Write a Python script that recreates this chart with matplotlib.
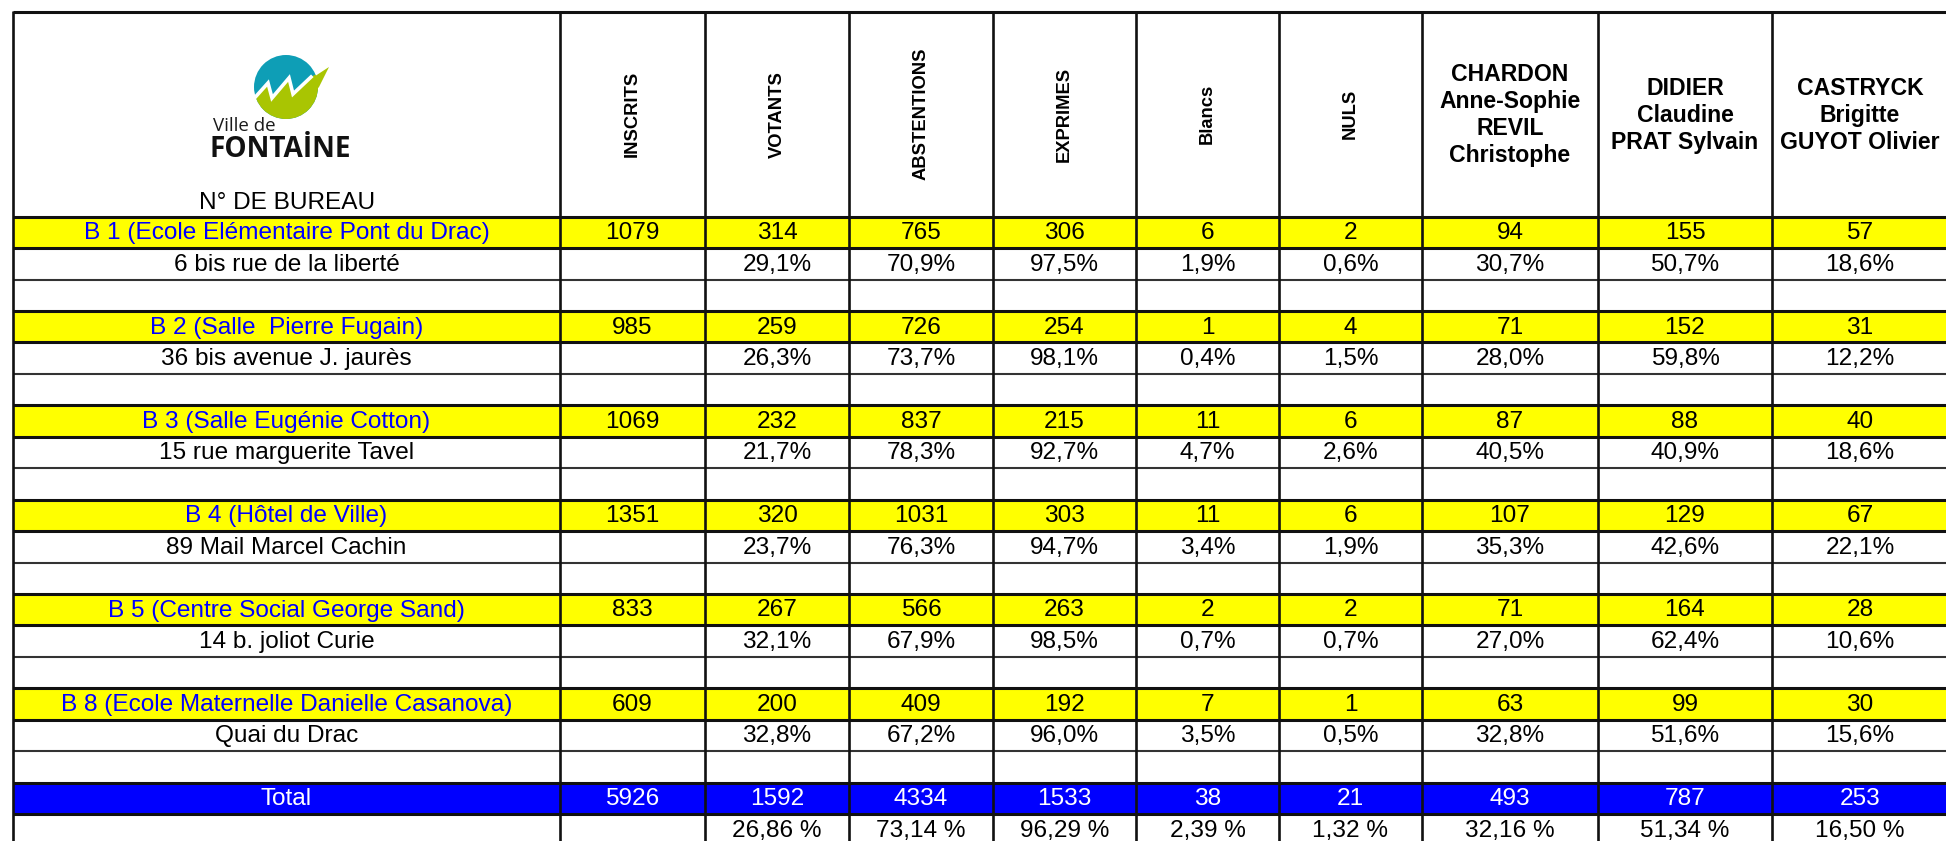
import matplotlib
matplotlib.use("Agg")
import matplotlib.pyplot as plt
from matplotlib.patches import Rectangle, Circle, Polygon

# ---------------- data ----------------
bureaux = ["B 1 (Ecole Elémentaire Pont du Drac)", "B 2 (Salle  Pierre Fugain)",
           "B 3 (Salle Eugénie Cotton)", "B 4 (Hôtel de Ville)",
           "B 5 (Centre Social George Sand)", "B 8 (Ecole Maternelle Danielle Casanova)"]
adresses = ["6 bis rue de la liberté", "36 bis avenue J. jaurès", "15 rue marguerite Tavel",
            "89 Mail Marcel Cachin", "14 b. joliot Curie", "Quai du Drac"]
colonnes = ["INSCRITS", "VOTANTS", "ABSTENTIONS", "EXPRIMES", "Blancs", "NULS"]
candidats = ["CHARDON\nAnne-Sophie\nREVIL\nChristophe", "DIDIER\nClaudine\nPRAT Sylvain",
             "CASTRYCK\nBrigitte\nGUYOT Olivier"]
entete_bureau = "N° DE BUREAU"

inscrits = [1079, 985, 1069, 1351, 833, 609]
votants = [314, 259, 232, 320, 267, 200]
abstentions = [765, 726, 837, 1031, 566, 409]
exprimes = [306, 254, 215, 303, 263, 192]
blancs = [6, 1, 11, 11, 2, 7]
nuls = [2, 4, 6, 6, 2, 1]
chardon = [94, 71, 87, 107, 71, 63]
didier = [155, 152, 88, 129, 164, 99]
castryck = [57, 31, 40, 67, 28, 30]

pct_votants = [29.1, 26.3, 21.7, 23.7, 32.1, 32.8]
pct_abstentions = [70.9, 73.7, 78.3, 76.3, 67.9, 67.2]
pct_exprimes = [97.5, 98.1, 92.7, 94.7, 98.5, 96.0]
pct_blancs = [1.9, 0.4, 4.7, 3.4, 0.7, 3.5]
pct_nuls = [0.6, 1.5, 2.6, 1.9, 0.7, 0.5]
pct_chardon = [30.7, 28.0, 40.5, 35.3, 27.0, 32.8]
pct_didier = [50.7, 59.8, 40.9, 42.6, 62.4, 51.6]
pct_castryck = [18.6, 12.2, 18.6, 22.1, 10.6, 15.6]

total_label = "Total"
totaux = [5926, 1592, 4334, 1533, 38, 21, 493, 787, 253]
pct_totaux = [26.86, 73.14, 96.29, 2.39, 1.32, 32.16, 51.34, 16.50]

# ---------------- layout / style ----------------
W, H = 1946, 841
YELLOW = "#FFFF00"
BLUE = "#0000FF"
FONT = ["Liberation Sans", "DejaVu Sans"]
FS = 17.6
col_edges = [13, 560, 705, 849, 993, 1136, 1279, 1422, 1598, 1772, 1948]
top = 11.5
head_bot = 216.7
row_h = 31.44
n_rows = 20
row_edges = [head_bot + i * row_h for i in range(n_rows + 1)]

fig = plt.figure(figsize=(W / 100, H / 100), dpi=100)
ax = fig.add_axes([0, 0, 1, 1])
ax.set_xlim(0, W)
ax.set_ylim(H, 0)
ax.axis("off")


def fmt1(v):
    return f"{v:.1f}".replace(".", ",") + "%"


def fmt2(v):
    return f"{v:.2f}".replace(".", ",") + " %"


def ccenter(i):
    return (col_edges[i] + col_edges[i + 1]) / 2


def rcenter(r):
    return (row_edges[r] + row_edges[r + 1]) / 2


def put(i, r, s, color="black", **kw):
    ax.text(ccenter(i), rcenter(r) + 0.8, s, ha="center", va="center",
            fontsize=FS, color=color, family=FONT, **kw)


# fills
yellow_rows = [3 * k for k in range(len(bureaux))]
total_row = 3 * len(bureaux)
for r in yellow_rows:
    ax.add_patch(Rectangle((col_edges[0], row_edges[r]), W + 10 - col_edges[0], row_h,
                           facecolor=YELLOW, edgecolor="none", zorder=0))
ax.add_patch(Rectangle((col_edges[0], row_edges[total_row]), W + 10 - col_edges[0], row_h,
                       facecolor=BLUE, edgecolor="none", zorder=0))

# grid lines
lw_thin = 1.5
lw_thick = 2.2
ax.plot([col_edges[0], W + 5], [top, top], color="#111111", lw=lw_thick,
        solid_capstyle="butt", zorder=3)
for k, y in enumerate(row_edges):
    thick = (k % 3 == 0) or (k % 3 == 1)
    ax.plot([col_edges[0], W + 5], [y, y], color="#111111" if thick else "#333333",
            lw=lw_thick if thick else lw_thin, solid_capstyle="butt", zorder=3)
for x in col_edges[:-1]:
    ax.plot([x, x], [top - 1, H + 5], color="#111111", lw=lw_thin + 0.4,
            solid_capstyle="butt", zorder=3)

# header
for i, name in enumerate(colonnes):
    ax.text(ccenter(i + 1), (top + head_bot) / 2, name, rotation=90, ha="center",
            va="center", fontsize=13.2, fontweight="bold", family=FONT)
for j, name in enumerate(candidats):
    ax.text(ccenter(len(colonnes) + 1 + j), (top + head_bot) / 2 + 1, name, ha="center",
            va="center", fontsize=16.6, fontweight="bold", family=FONT,
            linespacing=1.22, multialignment="center")
ax.text(ccenter(0) + 1, 203, entete_bureau, ha="center", va="center", fontsize=FS,
        family=FONT)

# logo
cx, cy, rad = 286, 87, 32
TEAL = "#0E9EB6"
LIME = "#A9C502"
circ = Circle((cx, cy), rad, facecolor=TEAL, edgecolor="none", zorder=2)
ax.add_patch(circ)
zig = [(250, 103), (268, 83), (272, 98), (289, 78), (293, 94), (311, 77), (329, 67)]
green_poly = Polygon(zig + [(330, 130), (240, 130)], closed=True, facecolor=LIME,
                     edgecolor="none", zorder=2)
ax.add_patch(green_poly)
green_poly.set_clip_path(circ)
tail = Polygon([(306, 82), (329, 67), (319, 87), (313, 94)], closed=True,
               facecolor=LIME, edgecolor="none", zorder=2)
ax.add_patch(tail)
zx, zy = zip(*zig[:-1])
ax.plot(zx, zy, color="white", lw=2.6, solid_joinstyle="miter", zorder=2.5)
ax.text(213, 131, "Ville de", ha="left", va="baseline", fontsize=13.5,
        family=["Open Sans", "DejaVu Sans"], color="#1a1a1a")
ax.text(210, 157, "FONTAİNE", ha="left", va="baseline", fontsize=20.2, fontweight="bold",
        family=["Open Sans", "DejaVu Sans"], color="#111111")

# body
series = [inscrits, votants, abstentions, exprimes, blancs, nuls, chardon, didier, castryck]
pcts = [pct_votants, pct_abstentions, pct_exprimes, pct_blancs, pct_nuls,
        pct_chardon, pct_didier, pct_castryck]
for b in range(len(bureaux)):
    r = 3 * b
    put(0, r, bureaux[b], color=BLUE)
    for i, s in enumerate(series):
        put(i + 1, r, str(s[b]))
    put(0, r + 1, adresses[b])
    for i, p in enumerate(pcts):
        put(i + 2, r + 1, fmt1(p[b]))

put(0, total_row, total_label, color="white")
for i, v in enumerate(totaux):
    put(i + 1, total_row, str(v), color="white")
for i, p in enumerate(pct_totaux):
    put(i + 2, total_row + 1, fmt2(p))

fig.savefig("out.png", dpi=100, facecolor="white")
